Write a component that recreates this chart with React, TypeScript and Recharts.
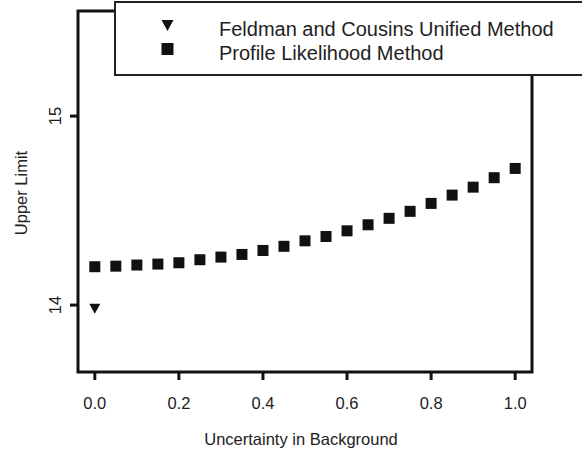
import { ScatterChart, Scatter, XAxis, YAxis, ReferenceArea, Legend, Label } from 'recharts';

const bgUncertainty = [0, 0.05, 0.1, 0.15, 0.2, 0.25, 0.3, 0.35, 0.4, 0.45, 0.5, 0.55, 0.6, 0.65, 0.7, 0.75, 0.8, 0.85, 0.9, 0.95, 1.0];
const profileLimit = [14.203, 14.206, 14.212, 14.217, 14.224, 14.24, 14.254, 14.268, 14.289, 14.311, 14.34, 14.363, 14.393, 14.425, 14.459, 14.496, 14.538, 14.582, 14.624, 14.674, 14.723];
const fcUncertainty = [0];
const fcLimit = [13.98];

const xTicks = [0, 0.2, 0.4, 0.6, 0.8, 1.0];
const yTicks = [14, 15];
const xDomain = [-0.04, 1.04];
const yDomain = [13.646, 15.556];

const seriesNames = ['Feldman and Cousins Unified Method', 'Profile Likelihood Method'];

const profileData = bgUncertainty.map((x, i) => ({ x, y: profileLimit[i] }));
const fcData = fcUncertainty.map((x, i) => ({ x, y: fcLimit[i] }));

const FONT = '"Liberation Sans", Arial, sans-serif';
const INK = '#111';
const TEXT = '#222';
const AXIS_FS = 16.5;

const Square = (p: any) => <rect x={p.cx - 5.5} y={p.cy - 5.5} width={11} height={11} fill={INK} />;
const DownTriangle = (p: any) => (
  <polygon points={`${p.cx - 5.5},${p.cy - 5} ${p.cx + 5.5},${p.cy - 5} ${p.cx},${p.cy + 5}`} fill={INK} />
);

const XTick = (p: any) => (
  <text x={p.x} y={409} textAnchor="middle" fontFamily={FONT} fontSize={AXIS_FS} fill={TEXT}>
    {Number(p.payload.value).toFixed(1)}
  </text>
);

const YTick = (p: any) => (
  <text x={61} y={p.y} transform={`rotate(-90, 61, ${p.y})`} textAnchor="middle" fontFamily={FONT} fontSize={AXIS_FS} fill={TEXT}>
    {p.payload.value}
  </text>
);

const LegendBox = () => (
  <svg width={470} height={76} style={{ display: 'block' }}>
    <rect x={1} y={1} width={480} height={73} fill="#fff" stroke="#222" strokeWidth={2} />
    <polygon points="47.5,19 59.5,19 53.5,30" fill={INK} />
    <rect x={47.5} y={42} width={12} height={12} fill={INK} />
    <text x={105} y={35} fontFamily={FONT} fontSize={20} fill={TEXT}>{seriesNames[0]}</text>
    <text x={105} y={59} fontFamily={FONT} fontSize={20} fill={TEXT}>{seriesNames[1]}</text>
  </svg>
);

export default function App() {
  return (
    <div style={{ position: 'absolute', left: 0, top: 0, width: 582, height: 452, background: '#fff' }}>
      <ScatterChart width={582} height={452} margin={{ top: 11, right: 50, left: 0, bottom: 0 }}>
        <XAxis
          type="number"
          dataKey="x"
          domain={xDomain}
          ticks={xTicks}
          height={80}
          axisLine={false}
          tickLine={{ stroke: INK, strokeWidth: 3 }}
          tickSize={8}
          tick={XTick}
          allowDataOverflow
        >
          <Label
            content={() => (
              <text x={301} y={445} textAnchor="middle" fontFamily={FONT} fontSize={AXIS_FS} fill={TEXT}>
                Uncertainty in Background
              </text>
            )}
          />
        </XAxis>
        <YAxis
          type="number"
          dataKey="y"
          domain={yDomain}
          ticks={yTicks}
          width={78}
          axisLine={false}
          tickLine={{ stroke: INK, strokeWidth: 3 }}
          tickSize={8}
          tick={YTick}
          allowDataOverflow
        >
          <Label
            content={() => (
              <text x={27} y={193} transform="rotate(-90, 27, 193)" textAnchor="middle" fontFamily={FONT} fontSize={AXIS_FS} fill={TEXT}>
                Upper Limit
              </text>
            )}
          />
        </YAxis>
        <ReferenceArea x1={xDomain[0]} x2={xDomain[1]} y1={yDomain[0]} y2={yDomain[1]} fill="none" stroke={INK} strokeWidth={3} />
        <Scatter name={seriesNames[1]} data={profileData} shape={Square} isAnimationActive={false} />
        <Scatter name={seriesNames[0]} data={fcData} shape={DownTriangle} isAnimationActive={false} />
        <Legend
          layout="horizontal"
          verticalAlign="middle"
          align="center"
          content={LegendBox}
          wrapperStyle={{ position: 'absolute', left: 114, top: 1, width: 470, height: 76 }}
        />
      </ScatterChart>
    </div>
  );
}
